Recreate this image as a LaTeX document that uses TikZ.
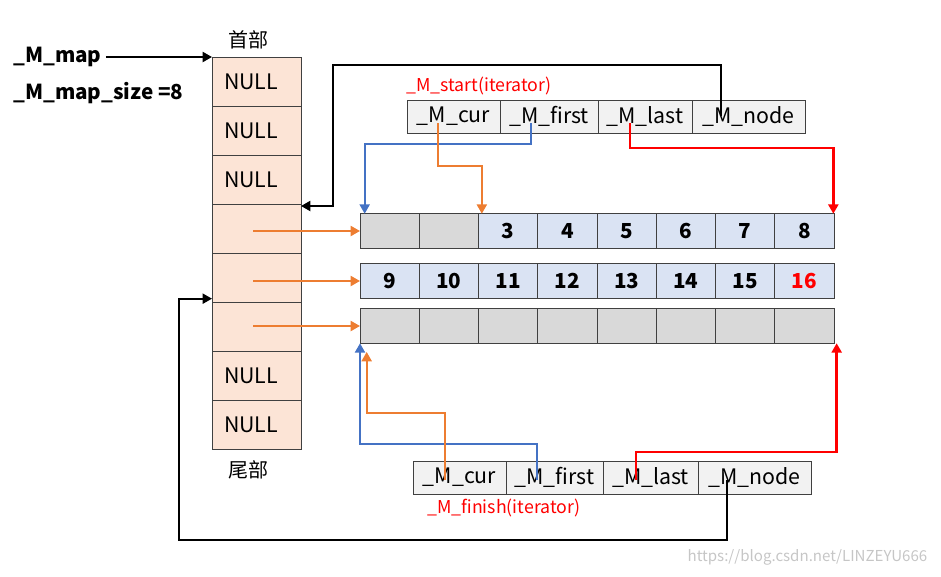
\documentclass[tikz,border=0pt]{standalone}
\usepackage{fontspec}
\setmainfont{Noto Sans CJK SC}
\usepackage{tikz}
\usetikzlibrary{arrows.meta,positioning,calc}
\usepackage{xcolor}
\definecolor{mapfill}{HTML}{FCE4D6}
\definecolor{bluefill}{HTML}{DAE3F3}
\definecolor{grayfill}{HTML}{D9D9D9}
\definecolor{fldfill}{HTML}{F2F2F2}
\definecolor{orng}{HTML}{ED7D31}
\definecolor{blu}{HTML}{4472C4}

\begin{document}
\begin{tikzpicture}[x=0.75pt, y=-0.75pt,
    cell/.style={rectangle, draw=black!75, line width=0.75pt, fill=#1, inner sep=0pt, outer sep=0pt},
    slot/.style={cell=mapfill, minimum width=66.75pt, minimum height=36.75pt, text width=48.75pt, align=left, font=\fontsize{16}{18}\selectfont},
    buf/.style={cell=#1, minimum width=44.44pt, minimum height=25.9pt, font=\bfseries\fontsize{15.5}{18}\selectfont},
    fld/.style={cell=fldfill, minimum height=24.75pt, font=\fontsize{16}{18}\selectfont},
    arr/.style={-{Triangle[length=7pt,width=7.5pt]}, line width=1.5pt}
]
\useasboundingbox (0,0) rectangle (941,576);

% map
\foreach \i/\t in {1/NULL,2/NULL,3/NULL,4/,5/,6/,7/NULL,8/NULL}
  \node[slot] (m\i) at (256.5,{81.5+49*(\i-1)}) {\t};
\node[font=\fontsize{15}{17}\selectfont] (head) at (248,40) {首部};
\node[font=\fontsize{15}{17}\selectfont] (tail) at (248,470) {尾部};
\node[anchor=west, font=\bfseries\fontsize{15.5}{18}\selectfont, inner sep=0pt] (mapl) at (13,57) {\_M\_map};
\node[anchor=west, font=\bfseries\fontsize{15.5}{18}\selectfont, inner sep=0pt] (sizel) at (13,93) {\_M\_map\_size =8};
\draw[arr] ([xshift=3pt]mapl.east) -- (m1.north west);

% buffers
\foreach \j/\t/\c in {1//grayfill,2//grayfill,3/3/bluefill,4/4/bluefill,5/5/bluefill,6/6/bluefill,7/7/bluefill,8/8/bluefill}
  \node[buf=\c] (r1c\j) at ({360+59.25*(\j-0.5)},231) {\t};
\foreach \j/\t in {1/9,2/10,3/11,4/12,5/13,6/14,7/15,8/\textcolor{red}{16}}
  \node[buf=bluefill] (r2c\j) at ({360+59.25*(\j-0.5)},281) {\t};
\foreach \j in {1,...,8}
  \node[buf=grayfill] (r3c\j) at ({360+59.25*(\j-0.5)},326) {};

\draw[arr, orng] ([xshift=-2.5pt]m4.center |- r1c1.west) -- (r1c1.west);
\draw[arr, orng] ([xshift=-2.5pt]m5.center |- r2c1.west) -- (r2c1.west);
\draw[arr, orng] ([xshift=-2.5pt]m6.center |- r3c1.west) -- (r3c1.west);

% _M_start
\foreach \n/\x/\w/\t in {cur/453.5/93/\_M\_cur, first/549/98/\_M\_first, last/645/94/\_M\_last, node/748.5/113/\_M\_node}
  \node[fld, minimum width=\w*0.75pt] (s\n) at (\x,116.5) {\t};
\node[anchor=west, red, inner sep=0pt, font=\fontsize{13.3}{15}\selectfont] (slabel) at (406,86) {\_M\_start(iterator)};

% _M_finish
\foreach \n/\x/\w/\t in {cur/459.5/93/\_M\_cur, first/554.5/97/\_M\_first, last/650.5/95/\_M\_last, node/754.5/113/\_M\_node}
  \node[fld, minimum width=\w*0.75pt] (f\n) at (\x,477.5) {\t};
\node[anchor=west, red, inner sep=0pt, font=\fontsize{13.3}{15}\selectfont] (flabel) at (427,508) {\_M\_finish(iterator)};

% start pointers
\coordinate (snt) at (721,116);
\coordinate (sft) at (531,123);
\coordinate (sct) at (438,123);
\coordinate (slt) at (630,123);
\draw[arr] (snt) |- (333,65) |- ([yshift=-1.5pt]m4.north east);
\draw[arr, blu] (sft) -- (531,144) -| ([xshift=3.5pt]r1c1.north west);
\draw[arr, orng] (sct) -- (438,166) -| ([xshift=2.5pt]r1c3.north west);
\draw[arr, red, line width=2.2pt] (slt) -- (630,148) -| ([xshift=-0.5pt]r1c8.north east);

% finish pointers
\coordinate (fnt) at (727,480);
\coordinate (fft) at (537,480);
\coordinate (fct) at (445,480);
\coordinate (flt) at (636,480);
\draw[arr] (fnt) |- (179,540) |- ([yshift=2.5pt]m6.north west);
\draw[arr, blu] (fft) -- (537,444) -| (r3c1.south west);
\draw[arr, orng, shorten >=6.5pt] (fct) -- (445,413) -| ([xshift=5pt]r3c1.south west);
\draw[arr, red, line width=2.2pt] (flt) -- (636,452) -| ([xshift=2pt]r3c8.south east);

\node[anchor=east, gray!45, font=\fontsize{11.3}{13}\selectfont] (wm) at (932,557) {https://blog.csdn.net/LINZEYU666};
\end{tikzpicture}
\end{document}
